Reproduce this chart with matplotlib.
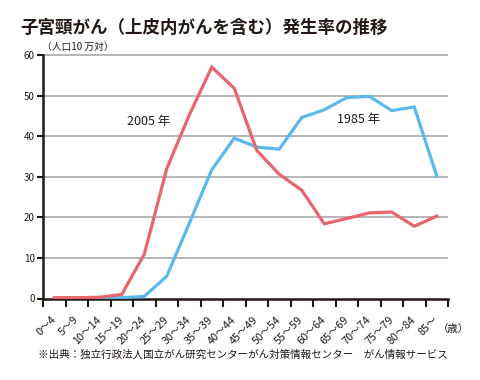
import matplotlib.pyplot as plt
import numpy as np

plt.rcParams['font.family'] = ['Noto Sans CJK JP', 'DejaVu Sans']

# age groups
ages = ['0～4', '5～9', '10～14', '15～19', '20～24', '25～29', '30～34', '35～39',
        '40～44', '45～49', '50～54', '55～59', '60～64', '65～69', '70～74',
        '75～79', '80～84', '85～']

# incidence per 100,000
rate_2005 = [0.2, 0.2, 0.3, 1.0, 10.9, 32.0, 45.2, 57.0, 51.8, 36.5, 30.6,
             26.7, 18.4, 19.7, 21.1, 21.3, 17.8, 20.3]
rate_1985 = [0.0, 0.0, 0.1, 0.2, 0.5, 5.5, 18.5, 31.7, 39.5, 37.3, 36.8,
             44.6, 46.5, 49.5, 49.8, 46.3, 47.2, 30.2]

yticks = [0, 10, 20, 30, 40, 50, 60]

dark = '#231815'
red = '#e8656e'
blue = '#5bb8e8'

W, H = 480, 380
fig = plt.figure(figsize=(4.8, 3.8), dpi=100)
ax = fig.add_axes([43 / W, 1 - 298.5 / H, 405 / W, 243.5 / H])

x = np.arange(len(ages)) + 0.5
ax.plot(x, rate_1985, color=blue, lw=2.3, solid_joinstyle='miter', zorder=3)
ax.plot(x, rate_2005, color=red, lw=2.3, solid_joinstyle='miter', zorder=4)

ax.set_xlim(0, len(ages))
ax.set_ylim(0, 60)

for y in yticks[1:]:
    ax.plot([0, 17.95], [y, y], color='#b5b5b5', lw=1.4, zorder=1, clip_on=False)

ax.set_yticks(yticks)
ax.set_yticklabels([str(v) for v in yticks], fontsize=7, color=dark)
ax.tick_params(axis='y', length=4, width=1.5, color=dark, pad=2)

ax.set_xticks(np.arange(len(ages) + 1))
ax.set_xticklabels([])
ax.tick_params(axis='x', which='major', length=6, width=1.5, color=dark)
ax.set_xticks(x, minor=True)
ax.set_xticklabels(ages, minor=True, rotation=45, ha='right', va='center',
                   rotation_mode='anchor', fontsize=7.8, color=dark)
ax.tick_params(axis='x', which='minor', length=0, pad=14)

for s in ['top', 'right']:
    ax.spines[s].set_visible(False)
for s in ['left', 'bottom']:
    ax.spines[s].set_color(dark)
    ax.spines[s].set_linewidth(1.8)

fig.text(127 / W, 1 - 121 / H, '2005 年', fontsize=9, color=dark,
         va='center', ha='left')
fig.text(337 / W, 1 - 119 / H, '1985 年', fontsize=9, color=dark,
         va='center', ha='left')

fig.text(20 / W, 1 - 28 / H, '子宮頸がん（上皮内がんを含む）発生率の推移',
         fontsize=12.6, fontweight='bold', color=dark, va='center', ha='left')
fig.text(42 / W, 1 - 47 / H, '（人口10 万対）', fontsize=7, color=dark,
         va='center', ha='left')
fig.text(438 / W, 1 - 329 / H, '（歳）', fontsize=7.5, color=dark,
         va='center', ha='left')
fig.text(38 / W, 1 - 355 / H,
         '※出典：独立行政法人国立がん研究センターがん対策情報センター　がん情報サービス',
         fontsize=7.6, color=dark, va='center', ha='left')

fig.savefig('out.png', dpi=100)
